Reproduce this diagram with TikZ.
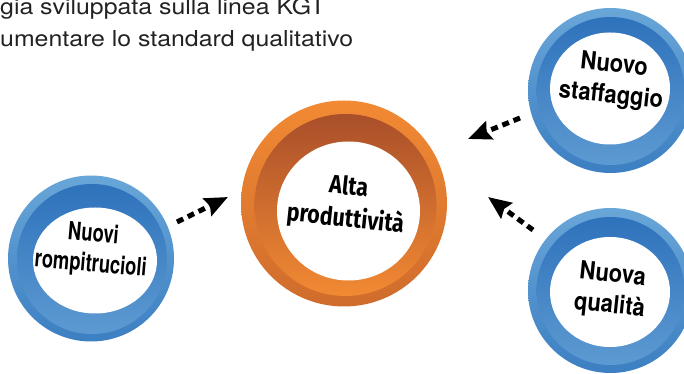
\documentclass[tikz,border=0pt]{standalone}
\usepackage{fontspec}
\usetikzlibrary{arrows.meta,shapes.geometric}
\newfontfamily\topfont[FakeStretch=1.13]{TeX Gyre Heros}
\newfontfamily\ctrfont[FakeStretch=0.84]{Fira Sans}
\newfontfamily\bluefontR[FakeStretch=0.88]{TeX Gyre Heros}
\newfontfamily\bluefontL[FakeStretch=0.735]{TeX Gyre Heros}
\definecolor{orA}{HTML}{F28A33}
\definecolor{orB}{HTML}{CF6C2C}
\definecolor{brA}{HTML}{A94F2A}
\definecolor{blA}{HTML}{69A6D8}
\definecolor{blB}{HTML}{3C7FC2}
\definecolor{blC}{HTML}{2E72BB}
\definecolor{blD}{HTML}{5D9AD2}
\definecolor{txt}{HTML}{222222}
\begin{document}
\begin{tikzpicture}[x=1pt,y=1pt,
  disc/.style={circle, inner sep=0pt, draw=none},
  hole/.style={ellipse, inner sep=0pt, draw=none, fill=white},
  oouter/.style={disc, top color=orA, bottom color=orB},
  oband/.style={disc, top color=brA, bottom color=orA},
  bouter/.style={disc, top color=blA, bottom color=blB},
  bband/.style={disc, top color=blC, bottom color=blD},
  ctrlabel/.style={align=center, inner sep=0pt, text=black, font=\ctrfont\bfseries\fontsize{25.5}{32}\selectfont},
  bluelabelR/.style={align=center, inner sep=0pt, text=black, font=\bluefontR\bfseries\fontsize{25}{31}\selectfont},
  bluelabelL/.style={align=center, inner sep=0pt, text=black, font=\bluefontL\bfseries\fontsize{25}{30}\selectfont},
  toptext/.style={anchor=base west, inner sep=0pt, text=txt, font=\topfont\fontsize{22}{26}\selectfont},
  flow/.style={line width=5pt, dash pattern=on 7pt off 5pt, -{Stealth[length=23pt,width=19pt,inset=3pt]}}
]
\useasboundingbox (0,0) rectangle (684,374);

% top text
\node[toptext] (t1) at (0,359) {gia sviluppata sulla linea KGT};
\node[toptext] (t2) at (0,327) {umentare lo standard qualitativo};

% centre orange ring
\node[oouter, minimum size=206pt] (C) at (344,170.5) {};
\node[oband, minimum size=182pt] (Cb) at (345.5,169) {};
\node[hole, minimum width=143pt, minimum height=139pt] (Cw) at (348.5,163) {};
\node[ctrlabel, rotate=-6] (Ct) at (347,170) {Alta\\produttività};

% left blue ring
\node[bouter, minimum size=166pt] (L) at (91,115.5) {};
\node[bband, minimum size=150pt] (Lb) at (92,115) {};
\node[hole, minimum width=124pt, minimum height=106pt] (Lw) at (95,113.5) {};
\node[bluelabelL, rotate=-5] (Lt) at (92,124) {Nuovi\\rompitrucioli};

% top right blue ring
\node[bouter, minimum size=165pt] (R1) at (610.5,283.5) {};
\node[bband, minimum size=148pt] (R1b) at (610.5,283) {};
\node[hole, minimum width=120pt, minimum height=112pt] (R1w) at (610,285.5) {};
\node[bluelabelR, rotate=-6] (R1t) at (612.5,293) {Nuovo\\staffaggio};

% bottom right blue ring
\node[bouter, minimum size=165pt] (R2) at (610.5,83.5) {};
\node[bband, minimum size=148pt] (R2b) at (610.5,83) {};
\node[hole, minimum width=120pt, minimum height=110pt] (R2w) at (610,82) {};
\node[bluelabelR, rotate=-6] (R2t) at (611,83) {Nuova\\qualità};

% arrows
\coordinate (a1s) at (177,152);
\coordinate (a1e) at (228,177);
\coordinate (a2s) at (520,256);
\coordinate (a2e) at (468,235);
\coordinate (a3s) at (533,144);
\coordinate (a3e) at (488,177);
\draw[flow] (a1s) -- (a1e);
\draw[flow] (a2s) -- (a2e);
\draw[flow] (a3s) -- (a3e);
\end{tikzpicture}
\end{document}
